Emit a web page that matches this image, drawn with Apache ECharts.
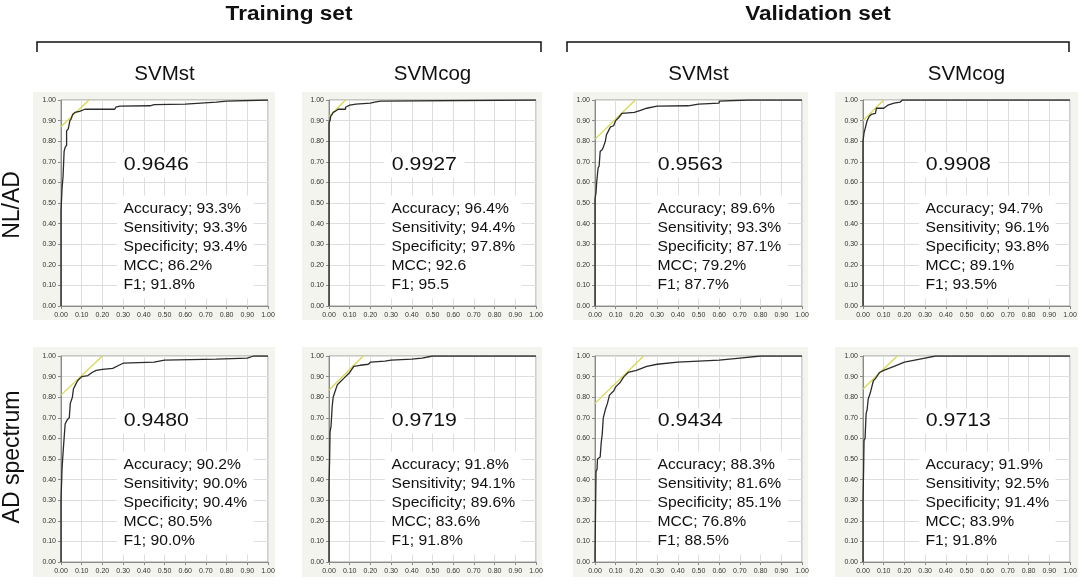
<!DOCTYPE html>
<html>
<head>
<meta charset="utf-8">
<script src="https://cdn.jsdelivr.net/npm/echarts@6/dist/echarts.min.js"></script>
<style>
  html, body { margin: 0; padding: 0; background: #fff; }
  #chart { width: 1084px; height: 584px; }
</style>
</head>
<body>
<div id="chart"></div>
<script>
// ROC curves [fpr, tpr]
var nlTrainSt = [[0,0],[0,0.46],[0.005,0.46],[0.005,0.57],[0.01,0.57],[0.01,0.63],[0.015,0.63],[0.015,0.75],[0.02,0.75],[0.02,0.77],[0.027,0.78],[0.027,0.85],[0.035,0.86],[0.043,0.9],[0.05,0.91],[0.056,0.93],[0.067,0.94],[0.09,0.945],[0.09,0.95],[0.115,0.955],[0.26,0.955],[0.265,0.965],[0.284,0.97],[0.43,0.972],[0.45,0.978],[0.6,0.98],[0.75,0.99],[0.8,0.995],[0.8,1],[1,1]];
var nlTrainCog = [[0,0],[0,0.89],[0.005,0.9],[0.008,0.92],[0.015,0.93],[0.02,0.94],[0.03,0.945],[0.03,0.95],[0.045,0.955],[0.08,0.955],[0.08,0.965],[0.1,0.975],[0.13,0.98],[0.2,0.985],[0.22,0.99],[0.25,0.995],[0.25,1],[1,1]];
var nlValSt = [[0,0],[0,0.52],[0.005,0.55],[0.008,0.6],[0.012,0.6],[0.015,0.67],[0.02,0.68],[0.025,0.75],[0.035,0.76],[0.04,0.77],[0.05,0.8],[0.055,0.83],[0.065,0.85],[0.075,0.87],[0.09,0.875],[0.1,0.9],[0.115,0.915],[0.13,0.935],[0.19,0.94],[0.22,0.95],[0.25,0.96],[0.3,0.97],[0.45,0.972],[0.5,0.98],[0.6,0.985],[0.6,0.995],[0.74,1],[1,1]];
var nlValCog = [[0,0],[0,0.8],[0.005,0.84],[0.01,0.86],[0.015,0.88],[0.02,0.9],[0.03,0.92],[0.04,0.93],[0.06,0.935],[0.065,0.96],[0.1,0.96],[0.12,0.975],[0.15,0.985],[0.18,0.99],[0.19,1],[1,1]];
var adTrainSt = [[0,0],[0,0.3],[0.005,0.45],[0.008,0.5],[0.012,0.56],[0.015,0.6],[0.02,0.67],[0.03,0.69],[0.04,0.7],[0.045,0.77],[0.055,0.8],[0.06,0.84],[0.07,0.86],[0.08,0.88],[0.1,0.9],[0.13,0.905],[0.15,0.92],[0.17,0.93],[0.2,0.935],[0.25,0.94],[0.28,0.955],[0.3,0.965],[0.45,0.97],[0.5,0.98],[0.75,0.985],[0.9,0.99],[0.93,1],[1,1]];
var adTrainCog = [[0,0],[0,0.38],[0.003,0.5],[0.005,0.63],[0.01,0.66],[0.015,0.75],[0.02,0.8],[0.03,0.83],[0.04,0.86],[0.05,0.87],[0.07,0.89],[0.1,0.92],[0.12,0.95],[0.15,0.955],[0.19,0.96],[0.2,0.97],[0.27,0.975],[0.3,0.98],[0.4,0.985],[0.45,0.99],[0.5,1],[1,1]];
var adValSt = [[0,0],[0,0.03],[0.005,0.44],[0.01,0.45],[0.012,0.5],[0.025,0.51],[0.03,0.58],[0.035,0.62],[0.04,0.7],[0.05,0.74],[0.06,0.77],[0.07,0.81],[0.09,0.83],[0.1,0.85],[0.12,0.87],[0.14,0.9],[0.16,0.92],[0.2,0.93],[0.25,0.95],[0.3,0.96],[0.4,0.97],[0.6,0.98],[0.7,0.99],[0.8,1],[1,1]];
var adValCog = [[0,0],[0,0.3],[0.003,0.45],[0.005,0.59],[0.01,0.6],[0.015,0.72],[0.02,0.74],[0.025,0.79],[0.035,0.82],[0.05,0.88],[0.06,0.89],[0.08,0.92],[0.1,0.93],[0.15,0.95],[0.2,0.97],[0.25,0.98],[0.3,0.99],[0.35,1],[1,1]];

// yellow tangent lines at the cut-off
var tangents = [
  [[0,0.87],[0.135,1]], [[0,0.92],[0.08,1]], [[0,0.81],[0.195,1]], [[0,0.9],[0.1,1]],
  [[0,0.81],[0.2,1]], [[0,0.835],[0.165,1]], [[0,0.77],[0.235,1]], [[0,0.84],[0.165,1]]
];

var rocCurves = [nlTrainSt, nlTrainCog, nlValSt, nlValCog, adTrainSt, adTrainCog, adValSt, adValCog];
var aucValues = ['0.9646', '0.9927', '0.9563', '0.9908', '0.9480', '0.9719', '0.9434', '0.9713'];
var metrics = [
  ['Accuracy; 93.3%', 'Sensitivity; 93.3%', 'Specificity; 93.4%', 'MCC; 86.2%', 'F1; 91.8%'],
  ['Accuracy; 96.4%', 'Sensitivity; 94.4%', 'Specificity; 97.8%', 'MCC; 92.6', 'F1; 95.5'],
  ['Accuracy; 89.6%', 'Sensitivity; 93.3%', 'Specificity; 87.1%', 'MCC; 79.2%', 'F1; 87.7%'],
  ['Accuracy; 94.7%', 'Sensitivity; 96.1%', 'Specificity; 93.8%', 'MCC; 89.1%', 'F1; 93.5%'],
  ['Accuracy; 90.2%', 'Sensitivity; 90.0%', 'Specificity; 90.4%', 'MCC; 80.5%', 'F1; 90.0%'],
  ['Accuracy; 91.8%', 'Sensitivity; 94.1%', 'Specificity; 89.6%', 'MCC; 83.6%', 'F1; 91.8%'],
  ['Accuracy; 88.3%', 'Sensitivity; 81.6%', 'Specificity; 85.1%', 'MCC; 76.8%', 'F1; 88.5%'],
  ['Accuracy; 91.9%', 'Sensitivity; 92.5%', 'Specificity; 91.4%', 'MCC; 83.9%', 'F1; 91.8%']
];
var setTitles = ['Training set', 'Validation set'];
var modelTitles = ['SVMst', 'SVMcog', 'SVMst', 'SVMcog'];
var rowTitles = ['NL/AD', 'AD spectrum'];

// layout
var FONT = '"Liberation Sans", Arial, sans-serif';
var colLeft = [61, 329, 595, 863];
var rowTop = [100, 356];
var plotW = 207, plotH = 206;
var panelX = [[33, 275], [302, 542], [573, 808], [835, 1078]];
var panelY = [[92, 320], [347, 577]];

var chart = echarts.init(document.getElementById('chart'));

var grids = [], xAxes = [], yAxes = [], series = [], graphics = [];

function tickFmt(v) { return v.toFixed(2); }

for (var i = 0; i < 8; i++) {
  var r = Math.floor(i / 4), c = i % 4;
  var gl = colLeft[c], gt = rowTop[r];

  graphics.push({
    type: 'rect', z: -10, silent: true,
    shape: { x: panelX[c][0], y: panelY[r][0], width: panelX[c][1] - panelX[c][0], height: panelY[r][1] - panelY[r][0] },
    style: { fill: '#f4f4ee' }
  });

  grids.push({
    left: gl, top: gt, width: plotW, height: plotH,
    show: true, backgroundColor: '#fff', borderColor: '#9a9a9a', borderWidth: 1
  });
  var axisCommon = {
    type: 'value', gridIndex: i, min: 0, max: 1, interval: 0.1,
    axisLine: { show: true, onZero: false, lineStyle: { color: '#8a8a8a', width: 1 } },
    axisTick: { show: true, length: 3, lineStyle: { color: '#8a8a8a' } },
    splitLine: { show: true, lineStyle: { color: '#dedede', width: 1 } },
    axisLabel: { formatter: tickFmt, fontSize: 7, color: '#333', fontFamily: FONT, hideOverlap: false }
  };
  xAxes.push(echarts.util.merge({ axisLabel: { margin: 6 } }, axisCommon, true));
  yAxes.push(echarts.util.merge({ axisLabel: { margin: 5 } }, axisCommon, true));

  series.push({
    type: 'line', xAxisIndex: i, yAxisIndex: i, data: tangents[i],
    showSymbol: false, silent: true, z: 2,
    lineStyle: { color: '#d8d84e', width: 1.3 }
  });
  series.push({
    type: 'line', xAxisIndex: i, yAxisIndex: i, data: rocCurves[i],
    showSymbol: false, silent: true, z: 3,
    lineStyle: { color: '#2b2b2b', width: 1.3 }
  });

  graphics.push({
    type: 'text', z: 10, x: gl + 62 - 7, y: gt + 65, scaleX: 1.12,
    style: {
      text: aucValues[i], font: '19px ' + FONT, fill: '#111',
      align: 'left', verticalAlign: 'middle',
      backgroundColor: '#fff', padding: [3, 7]
    }
  });
  graphics.push({
    type: 'text', z: 10, x: gl + 62 - 6, y: gt + 109 - 9.5 - 4, scaleX: 1.08,
    style: {
      text: metrics[i].join('\n'), font: '14.5px ' + FONT, fill: '#111', lineHeight: 19,
      align: 'left', verticalAlign: 'top',
      backgroundColor: '#fff', padding: [4, 6]
    }
  });
}

// column headers
for (var c2 = 0; c2 < 4; c2++) {
  graphics.push({
    type: 'text', x: colLeft[c2] + plotW / 2, y: 74,
    style: { text: modelTitles[c2], font: '20.5px ' + FONT, fill: '#111', align: 'center', verticalAlign: 'middle' }
  });
}

// set titles and brackets
var bracketX = [[37, 541], [567, 1069]];
for (var s = 0; s < 2; s++) {
  graphics.push({
    type: 'text', x: (bracketX[s][0] + bracketX[s][1]) / 2, y: 14, scaleX: 1.13,
    style: { text: setTitles[s], font: 'bold 20px ' + FONT, fill: '#111', align: 'center', verticalAlign: 'middle' }
  });
  graphics.push({
    type: 'polyline', silent: true,
    shape: { points: [[bracketX[s][0], 52], [bracketX[s][0], 42], [bracketX[s][1], 42], [bracketX[s][1], 52]] },
    style: { stroke: '#111', lineWidth: 1.5, fill: null }
  });
}

// row labels
var rowCenters = [205, 457];
for (var r2 = 0; r2 < 2; r2++) {
  graphics.push({
    type: 'text', x: 13, y: rowCenters[r2], rotation: Math.PI / 2,
    style: { text: rowTitles[r2], font: '23px ' + FONT, fill: '#111', align: 'center', verticalAlign: 'middle' }
  });
}

chart.setOption({
  animation: false,
  grid: grids,
  xAxis: xAxes,
  yAxis: yAxes,
  series: series,
  graphic: graphics
});
</script>
</body>
</html>
